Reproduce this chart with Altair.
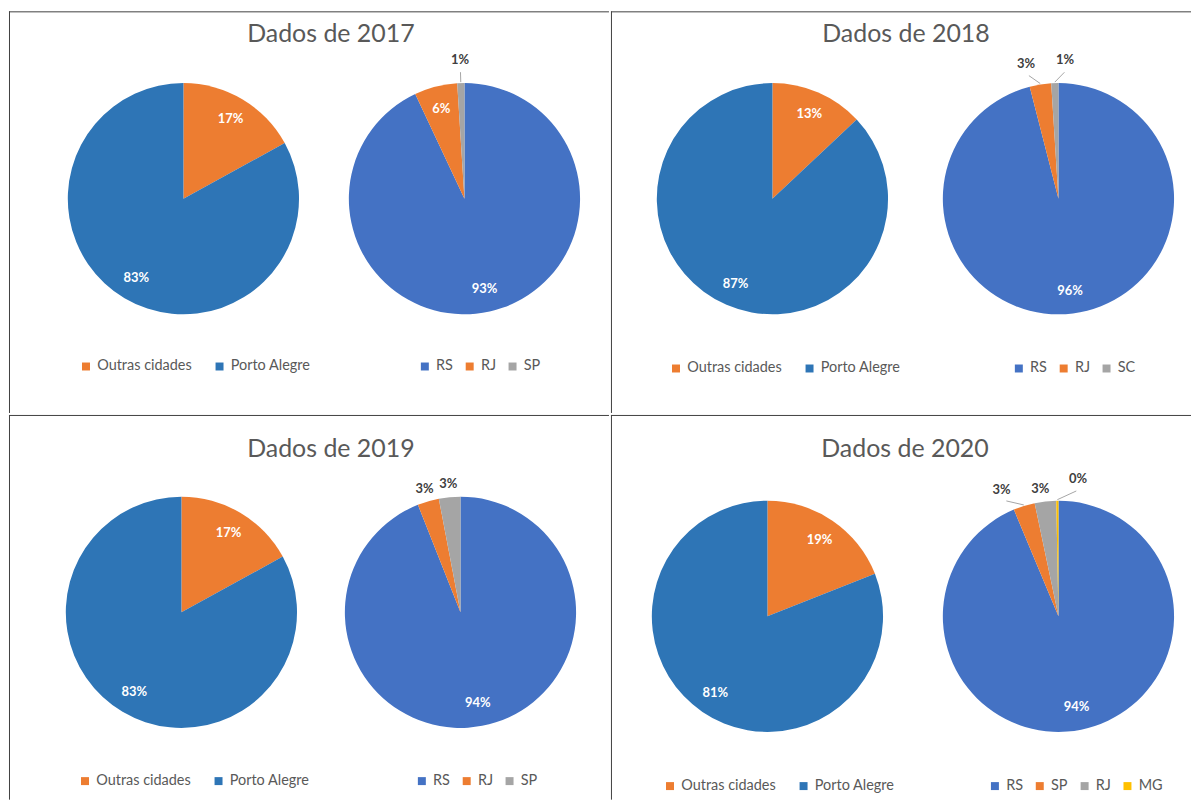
import math
import altair as alt
import pandas as pd

# ---------------- data ----------------
titulos = ["Dados de 2017", "Dados de 2018", "Dados de 2019", "Dados de 2020"]
cidades = ["Outras cidades", "Porto Alegre"]
cidade_valores = [[17, 83], [13, 87], [17, 83], [19, 81]]
estados = [["RS", "RJ", "SP"], ["RS", "RJ", "SC"], ["RS", "RJ", "SP"], ["RS", "SP", "RJ", "MG"]]
estado_valores = [[93, 6, 1], [96, 3, 1], [94, 3, 3], [93.7, 3, 3, 0.3]]

cores_cidades = ["#ED7D31", "#2E75B6"]
paleta_estados = ["#4472C4", "#ED7D31", "#A5A5A5", "#FFC000"]

# ---------------- layout (pixels inside each panel) ----------------
R = 116
paineis = [
    dict(w=602, h=403, tx=323, ty=23, c1=(175, 188), c2=(457, 188), l1=(70, 349), l2=(410, 349)),
    dict(w=582, h=403, tx=296, ty=23, c1=(162, 188), c2=(449, 188), l1=(58, 351), l2=(402, 351)),
    dict(w=602, h=386, tx=323, ty=34, c1=(173, 198), c2=(453, 198), l1=(69, 360), l2=(407, 360)),
    dict(w=582, h=386, tx=295, ty=34, c1=(157, 202), c2=(449, 202), l1=(52, 365), l2=(378, 365)),
]

FONT = "Lato"
TSCALE = alt.Scale(domain=[0, 100], range=[0, 2 * math.pi])


def espalhar(mids, gap_min=2.9, gap=4.5):
    """Spread outside labels that would overlap (cluster merge)."""
    order = sorted(range(len(mids)), key=lambda i: mids[i])
    clusters = [[i] for i in order]

    def posicoes(cl):
        if len(cl) == 1:
            return [mids[cl[0]]]
        c = sum(mids[i] for i in cl) / len(cl)
        return [c + (k - (len(cl) - 1) / 2) * gap for k in range(len(cl))]

    changed = True
    while changed:
        changed = False
        for j in range(len(clusters) - 1):
            a, b = posicoes(clusters[j]), posicoes(clusters[j + 1])
            if b[0] - a[-1] < gap_min:
                clusters[j] = clusters[j] + clusters[j + 1]
                del clusters[j + 1]
                changed = True
                break
    out = {}
    for cl in clusters:
        for i, p in zip(cl, posicoes(cl)):
            out[i] = p
    return [out[i] for i in range(len(mids))]


def tabela(cats, vals):
    tot = sum(vals)
    pct = [v / tot * 100 for v in vals]
    ini, acc = [], 0.0
    for p in pct:
        ini.append(acc)
        acc += p
    fim = [a + p for a, p in zip(ini, pct)]
    meio = [(a + b) / 2 for a, b in zip(ini, fim)]
    dentro = [p >= 5 for p in pct]
    fora_idx = [i for i in range(len(cats)) if not dentro[i]]
    pos = list(meio)
    if fora_idx:
        novos = espalhar([meio[i] for i in fora_idx])
        for i, p in zip(fora_idx, novos):
            pos[i] = p
    movido = [(not dentro[i]) and (abs(pos[i] - meio[i]) > 0.5 or pct[i] < 2) for i in range(len(cats))]
    rr = [139 if movido[i] else 129 for i in range(len(cats))]
    return pd.DataFrame({
        "cat": cats, "val": vals, "ini": ini, "fim": fim, "meio": meio, "pos": pos,
        "rot": [f"{round(p)}%" for p in pct], "dentro": dentro, "movido": movido, "rr": rr,
    })


def pizza(df, cx, cy, cores, lx, ly, colpad):
    base = alt.Chart(df)
    arco = base.mark_arc(radius=R).encode(
        x=alt.value(cx), y=alt.value(cy),
        theta=alt.Theta("ini:Q", stack=None, scale=TSCALE),
        theta2="fim:Q",
        color=alt.Color(
            "cat:N",
            scale=alt.Scale(domain=list(df["cat"]), range=cores),
            legend=alt.Legend(
                title=None, orient="none", legendX=lx, legendY=ly, direction="horizontal",
                symbolType="square", symbolSize=64, symbolStrokeWidth=0,
                labelFont=FONT, labelFontSize=14.5, labelColor="#595959",
                labelOffset=4, columnPadding=colpad, padding=0,
            ),
        ),
    )
    dentro = base.transform_filter("datum.dentro").mark_text(
        radius=93, font=FONT, fontSize=13, fontWeight="bold", color="white",
        align="center", baseline="middle",
    ).encode(
        x=alt.value(cx), y=alt.value(cy),
        theta=alt.Theta("meio:Q", stack=None, scale=TSCALE),
        text="rot:N",
    )
    fora = base.transform_filter("!datum.dentro").mark_text(
        font=FONT, fontSize=13, fontWeight="bold", color="#404040",
        align="center", baseline="middle",
    ).encode(
        x=alt.value(cx), y=alt.value(cy),
        theta=alt.Theta("pos:Q", stack=None, scale=TSCALE),
        radius=alt.Radius("rr:Q", scale=None),
        text="rot:N",
    )
    guia = base.transform_filter("datum.movido").transform_calculate(
        x1=f"{cx} + {R + 1}*sin(datum.meio*PI/50)",
        y1=f"{cy} - {R + 1}*cos(datum.meio*PI/50)",
        x2=f"{cx} + {R + 11}*sin(datum.pos*PI/50)",
        y2=f"{cy} - {R + 11}*cos(datum.pos*PI/50)",
    ).mark_rule(color="#A6A6A6", strokeWidth=1).encode(
        x=alt.X("x1:Q", scale=None, axis=None),
        y=alt.Y("y1:Q", scale=None, axis=None),
        x2="x2:Q", y2="y2:Q",
    )
    return [arco, guia, dentro, fora]


def painel(k):
    p = paineis[k]
    w, h = p["w"], p["h"]
    um = pd.DataFrame({"t": [titulos[k]]})
    borda = alt.Chart(um).mark_rule(color="#404040", strokeWidth=1)
    esq = borda.encode(x=alt.value(0.5), y=alt.value(0), y2=alt.value(h))
    topo = borda.encode(x=alt.value(0), x2=alt.value(w), y=alt.value(0.5))
    titulo = alt.Chart(um).mark_text(
        font=FONT, fontSize=25, color="#595959", align="center", baseline="middle"
    ).encode(x=alt.value(p["tx"]), y=alt.value(p["ty"]), text="t:N")

    d1 = tabela(cidades, cidade_valores[k])
    d2 = tabela(estados[k], estado_valores[k])
    camadas = [esq, topo, titulo]
    camadas += pizza(d1, *p["c1"], cores_cidades, *p["l1"], 20)
    camadas += pizza(d2, *p["c2"], paleta_estados[: len(estados[k])], *p["l2"], 9)
    return alt.layer(*camadas).resolve_scale(color="independent").properties(width=w, height=h)


linha1 = alt.hconcat(painel(0), painel(1), spacing=0).resolve_scale(color="independent")
linha2 = alt.hconcat(painel(2), painel(3), spacing=0).resolve_scale(color="independent")
chart = alt.vconcat(linha1, linha2, spacing=0).resolve_scale(color="independent").properties(
    padding={"left": 0, "top": 1, "right": 0, "bottom": 0}, background="white"
).configure_view(stroke="transparent", strokeWidth=0)

chart.save("out.html", embed_options={"renderer": "svg", "actions": False})
